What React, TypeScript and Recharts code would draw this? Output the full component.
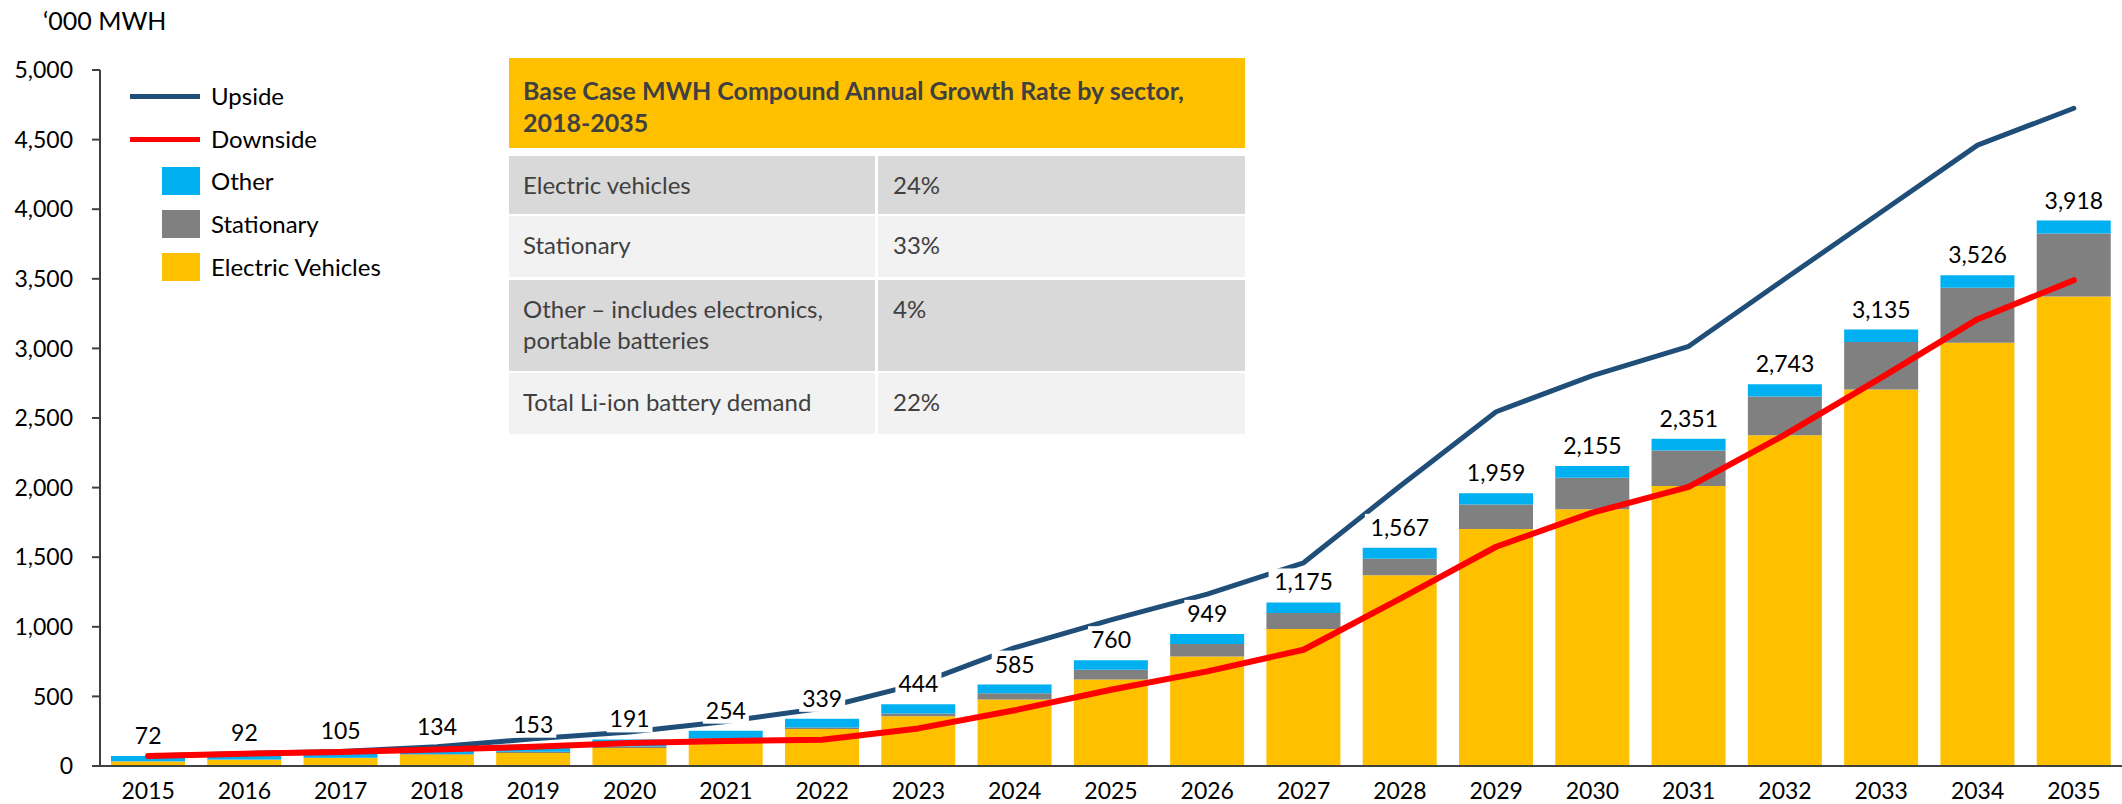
import React from "react";
import { Bar, ComposedChart, LabelList, Line, XAxis, YAxis } from "recharts";

const years = [2015, 2016, 2017, 2018, 2019, 2020, 2021, 2022, 2023, 2024, 2025, 2026, 2027, 2028, 2029, 2030, 2031, 2032, 2033, 2034, 2035];
const electricVehicles = [33, 45, 58, 82, 94, 130, 190, 265, 358, 478, 622, 786, 985, 1370, 1703, 1845, 2012, 2376, 2705, 3040, 3372];
const stationary = [1, 2, 2, 4, 8, 10, 10, 12, 20, 44, 70, 90, 115, 118, 176, 226, 254, 278, 341, 395, 453];
const other = [38, 45, 45, 48, 51, 51, 54, 62, 66, 63, 68, 73, 75, 79, 80, 84, 85, 89, 89, 91, 93];
const totals = [72, 92, 105, 134, 153, 191, 254, 339, 444, 585, 760, 949, 1175, 1567, 1959, 2155, 2351, 2743, 3135, 3526, 3918];
const upside = [72, 90, 105, 138, 195, 245, 320, 415, 590, 850, 1050, 1235, 1460, 2010, 2545, 2805, 3015, 3500, 3980, 4460, 4725];
const downside = [72, 88, 100, 118, 138, 165, 180, 188, 270, 400, 548, 680, 835, 1200, 1575, 1820, 2005, 2380, 2790, 3210, 3490];
const yTicks = [0, 500, 1000, 1500, 2000, 2500, 3000, 3500, 4000, 4500, 5000];

const cagrTitle = ["Base Case MWH Compound Annual Growth Rate by sector,", "2018-2035"];
const cagrSectors = [["Electric vehicles"], ["Stationary"], ["Other \u2013 includes electronics,", "portable batteries"], ["Total Li-ion battery demand"]];
const cagrRates = ["24%", "33%", "4%", "22%"];

const data = years.map((y, i) => ({
  year: String(y),
  ev: electricVehicles[i],
  stationary: stationary[i],
  other: other[i],
  total: totals[i],
  upside: upside[i],
  downside: downside[i],
}));

const FONT = "Lato, 'Open Sans', sans-serif";
const C = {
  ev: "#FFC000",
  stationary: "#808080",
  other: "#00B0F0",
  upside: "#1F4E79",
  downside: "#FF0000",
  axis: "#404040",
  tableText: "#404040",
};

// white box behind the total, so it cuts the lines like the original
function TotalLabel(props: any) {
  const { x, y, value } = props;
  const text = Number(value).toLocaleString("en-US");
  const w = text.length * 12 + 10;
  return (
    <g>
      <rect x={x - w / 2} y={y - 34} width={w} height={27} fill="#fff" />
      <text x={x} y={y - 12} textAnchor="middle" fontFamily={FONT} fontSize={23} fill="#000">
        {text}
      </text>
    </g>
  );
}

function LegendBlock() {
  const items = [
    { label: "Upside", kind: "line", color: C.upside, y: 96 },
    { label: "Downside", kind: "line", color: C.downside, y: 139 },
    { label: "Other", kind: "box", color: C.other, y: 181 },
    { label: "Stationary", kind: "box", color: C.stationary, y: 224 },
    { label: "Electric Vehicles", kind: "box", color: C.ev, y: 267 },
  ];
  return (
    <>
      {items.map((it) => (
        <div key={it.label}>
          {it.kind === "line" ? (
            <div style={{ position: "absolute", left: 130, top: it.y - 2.5, width: 70, height: 5, background: it.color }} />
          ) : (
            <div style={{ position: "absolute", left: 162, top: it.y - 14, width: 38, height: 28, background: it.color }} />
          )}
          <div style={{ position: "absolute", left: 211, top: it.y - 15, lineHeight: "30px", fontSize: 24, fontFamily: FONT, color: "#000" }}>
            {it.label}
          </div>
        </div>
      ))}
    </>
  );
}

function CagrTable() {
  const rowTops = [156, 216, 280, 373];
  const rowHeights = [58, 61, 91, 61];
  const rowBg = ["#D9D9D9", "#F2F2F2", "#D9D9D9", "#F2F2F2"];
  const cellText: React.CSSProperties = { fontFamily: FONT, fontSize: 24, color: C.tableText, lineHeight: "31px" };
  return (
    <>
      <div style={{ position: "absolute", left: 509, top: 58, width: 736, height: 90, background: C.ev, boxSizing: "border-box", padding: "16px 14px" }}>
        {cagrTitle.map((t) => (
          <div key={t} style={{ ...cellText, fontSize: 25, fontWeight: 700, lineHeight: "32px" }}>{t}</div>
        ))}
      </div>
      {cagrSectors.map((s, i) => (
        <React.Fragment key={i}>
          <div style={{ position: "absolute", left: 509, top: rowTops[i], width: 366, height: rowHeights[i], background: rowBg[i], boxSizing: "border-box", padding: "13px 14px" }}>
            {s.map((line) => (
              <div key={line} style={cellText}>{line}</div>
            ))}
          </div>
          <div style={{ position: "absolute", left: 878, top: rowTops[i], width: 367, height: rowHeights[i], background: rowBg[i], boxSizing: "border-box", padding: "13px 15px" }}>
            <div style={cellText}>{cagrRates[i]}</div>
          </div>
        </React.Fragment>
      ))}
    </>
  );
}

export default function App() {
  return (
    <div style={{ position: "absolute", left: 0, top: 0, width: 2122, height: 804, background: "#fff" }}>
      <ComposedChart width={2122} height={804} data={data} margin={{ top: 70, right: 0, bottom: 0, left: 0 }}>
        <XAxis
          dataKey="year"
          height={38}
          tickLine={false}
          tickSize={0}
          tickMargin={17}
          axisLine={{ stroke: C.axis, strokeWidth: 2 }}
          tick={{ fontFamily: FONT, fontSize: 23, fill: "#000" }}
          interval={0}
        />
        <YAxis
          width={100}
          domain={[0, 5000]}
          ticks={yTicks}
          tickSize={8}
          tickMargin={19}
          tickLine={{ stroke: C.axis, strokeWidth: 2 }}
          axisLine={{ stroke: C.axis, strokeWidth: 2 }}
          tick={{ fontFamily: FONT, fontSize: 23, fill: "#000" }}
          tickFormatter={(v) => Number(v).toLocaleString("en-US")}
        />
        <Bar dataKey="ev" stackId="a" fill={C.ev} barSize={74} isAnimationActive={false} />
        <Bar dataKey="stationary" stackId="a" fill={C.stationary} barSize={74} isAnimationActive={false} />
        <Bar dataKey="other" stackId="a" fill={C.other} barSize={74} isAnimationActive={false} />
        <Line type="linear" dataKey="upside" stroke={C.upside} strokeWidth={5} dot={false} strokeLinecap="round" strokeLinejoin="round" isAnimationActive={false} />
        <Line type="linear" dataKey="downside" stroke={C.downside} strokeWidth={6} dot={false} strokeLinecap="round" strokeLinejoin="round" isAnimationActive={false} />
        <Line type="linear" dataKey="total" stroke="none" dot={false} activeDot={false} isAnimationActive={false}>
          <LabelList dataKey="total" content={TotalLabel} />
        </Line>
      </ComposedChart>
      <div style={{ position: "absolute", left: 43, top: 5, fontFamily: FONT, fontSize: 25, lineHeight: "30px", color: "#000" }}>
        {"\u2018000 MWH"}
      </div>
      <LegendBlock />
      <CagrTable />
    </div>
  );
}
